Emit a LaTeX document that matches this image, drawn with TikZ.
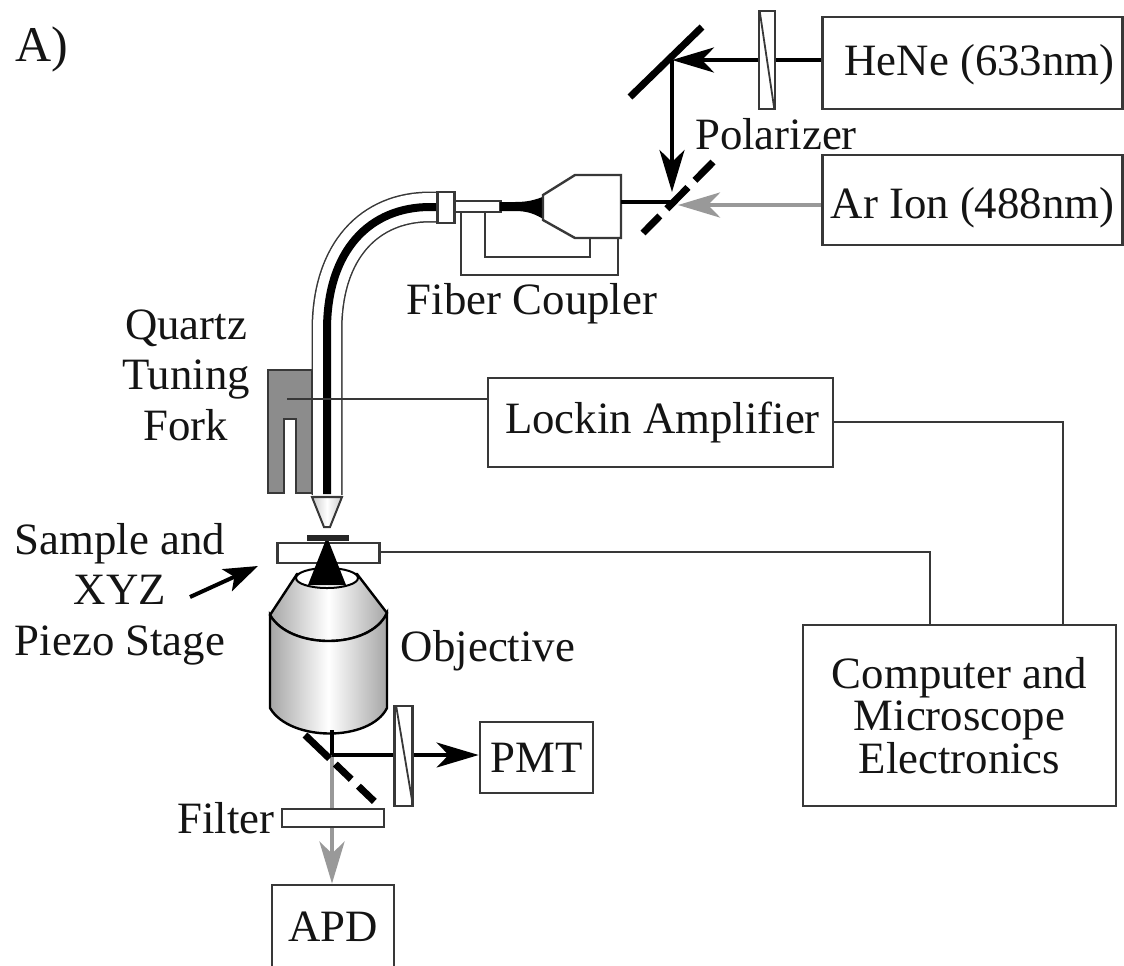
\documentclass[tikz,border=0pt]{standalone}
\usepackage{fontspec}
\setmainfont{Liberation Serif}
\usetikzlibrary{arrows.meta}
\definecolor{ln}{gray}{0.22}
\definecolor{beamgray}{gray}{0.6}
\definecolor{forkgray}{gray}{0.55}
\tikzset{
  x=0.5pt,y=-0.5pt,
  lab/.style={inner sep=0pt,align=center,text=black!92,font=\fontsize{22.4}{25.2}\selectfont},
  boxnode/.style={draw=ln,line width=1.4pt,fill=white,inner sep=0pt,align=center,text=black!92,font=\fontsize{22.4}{20}\selectfont},
  wire/.style={draw=ln,line width=1.4pt},
  thinbox/.style={draw=ln,line width=1.2pt,fill=white},
  blackhead/.style={-{Stealth[length=21pt,width=12.5pt,inset=6pt]},line width=2pt,black},
  grayhead/.style={-{Stealth[length=21pt,width=12.5pt,inset=6pt]},line width=2.4pt,beamgray},
  splitter/.style={line width=3.5pt,black,dash pattern=on 12pt off 5pt on 15pt off 5pt on 15pt off 5pt},
  objshade/.style={left color=black!35,right color=black!35,middle color=white,draw=black,line width=1.2pt},
}
\begin{document}
\begin{tikzpicture}
\clip (0,0) rectangle (1124,965);
\fill[white] (0,0) rectangle (1124,965);

% boxes
\node[boxnode,minimum width=150pt,minimum height=46pt] (hene) at (972.5,63) {\hspace{7pt}\raisebox{0pt}[\dimexpr\height+2pt][\depth]{HeNe (633nm)}};
\node[boxnode,minimum width=150pt,minimum height=45pt] (arion) at (972.5,200) {\raisebox{0pt}[\dimexpr\height+8pt][\depth]{Ar Ion (488nm)}};
\node[boxnode,minimum width=172.5pt,minimum height=44.5pt] (lockin) at (660.5,422.5) {\hspace{2pt}Lockin Amplifier};
\node[boxnode,minimum width=156.5pt,minimum height=90.5pt] (computer) at (959.5,715.5) {Computer and\\[1pt]Microscope\\Electronics};
\node[boxnode,minimum width=56.5pt,minimum height=35.5pt] (pmt) at (536.5,757.5) {PMT};
\node[boxnode,minimum width=61pt,minimum height=46pt] (apd) at (333,931) {\raisebox{0pt}[\height][\dimexpr\depth+4pt]{APD}};

% free junction points
\coordinate (mirrorpt) at (672,60);
\coordinate (bspt) at (672,202);
\coordinate (forkpt) at (287,399);
\coordinate (bs2pt) at (332,755);

% mirror and upper beam splitter
\coordinate (m1) at (630,97);
\coordinate (m2) at (702,27);
\draw[line width=3.5pt,black] (m1) -- (m2);
\coordinate (b1) at (643,233);
\coordinate (b2) at (713,162);
\draw[splitter] (b1) -- (b2);

% upper beams
\draw[blackhead] (hene.west |- mirrorpt) -- (mirrorpt);
\node[thinbox,minimum width=8pt,minimum height=49pt,inner sep=0pt] (pol1) at (767,60) {};
\draw[line width=0.9pt,ln] ([shift={(2,2)}]pol1.north west) -- ([shift={(-2,-2)}]pol1.south east);
\draw[blackhead] (mirrorpt) -- (672,192);
\draw[grayhead] (arion.west |- 0,205) -- (678,205);

% fiber
\coordinate (fibtop) at (437,207);
\coordinate (fibbot) at (327,495);
\draw[ln,line width=15.5pt] (fibtop) -- (430,207) .. controls (370,207) and (327,250) .. (327,330) -- (fibbot);
\draw[white,line width=14pt] (fibtop) -- (430,207) .. controls (370,207) and (327,250) .. (327,330) -- (fibbot);
\draw[black,line width=4pt] (fibtop) -- (430,207) .. controls (370,207) and (327,250) .. (327,330) -- (327,494);

% tip
\path[shade,left color=black!20,right color=black!20,middle color=white,draw=ln,line width=1pt] (312,497) -- (342,497) -- (330,527) -- (324,527) -- cycle;

% coupler brackets
\coordinate (cp1) at (461,211);
\coordinate (cp2) at (618,238);
\coordinate (cp3) at (485,211);
\coordinate (cp4) at (590,238);
\draw[wire,line width=1.2pt] (cp1) -- (461,275) -- (618,275) -- (cp2);
\draw[wire,line width=1.2pt] (cp3) -- (485,257) -- (590,257) -- (cp4);

% fiber mount
\node[thinbox,minimum width=8.5pt,minimum height=15.5pt,inner sep=0pt] (clamp) at (446,207.5) {};
\node[thinbox,minimum width=23pt,minimum height=5.5pt,inner sep=0pt] (ferrule) at (477.5,206.5) {};
\fill[black] (500,202) -- (515,202) .. controls (528,202) and (535,200) .. (545,196) -- (545,220) .. controls (535,214) and (528,211) .. (515,211) -- (500,211) -- cycle;
\path[draw=ln,line width=1.2pt,fill=white] (543,195) -- (575,175) -- (621,175) -- (621,238) -- (575,238) -- (543,220) -- cycle;
\coordinate (coupleout) at (621,202);
\draw[black,line width=1.8pt] (coupleout) -- (bspt);

% tuning fork
\path[draw=ln,line width=1pt,fill=forkgray] (268,370) -- (312,370) -- (312,493) -- (296,493) -- (296,419) -- (284,419) -- (284,493) -- (268,493) -- cycle;
\draw[wire,line width=1.3pt] (forkpt) -- (lockin.west |- forkpt);

% objective
\path[objshade] (270,615) -- (297,574) -- (357,574) -- (387,613) .. controls (370,650) and (290,650) .. (270,615) -- cycle;
\path[objshade] (270,615) .. controls (290,650) and (370,650) .. (387,613) -- (387,708) .. controls (370,742) and (290,742) .. (270,708) -- cycle;
\path[draw=black,line width=1pt,fill=white] (327,578) ellipse [x radius=31,y radius=10];

% sample stage
\node[thinbox,minimum width=51pt,minimum height=10pt,inner sep=0pt] (stage) at (328.5,553) {};
\fill[black] (327,537) -- (346,585) -- (308,585) -- cycle;
\fill[black!85] (307,535) rectangle (349,541);
\coordinate (stageout) at (930,552);
\draw[wire] (stage.east |- stageout) -- (stageout) -- (stageout |- computer.north);
\coordinate (lockout) at (1063,422);
\draw[wire] (lockin.east |- lockout) -- (lockout) -- (lockout |- computer.north);

% lower beams
\coordinate (objbot) at (332,730);
\draw[grayhead] (bs2pt) -- (bs2pt |- apd.north);
\node[thinbox,minimum width=51pt,minimum height=9pt,inner sep=0pt] (filter) at (333,818) {};
\coordinate (b3) at (305,735);
\coordinate (b4) at (376,803);
\draw[splitter,dash pattern=on 17pt off 4pt on 11pt off 5pt on 11pt off 5pt] (b3) -- (b4);
\draw[black,line width=1.8pt] (objbot) -- (bs2pt);
\draw[blackhead,line width=1.6pt] (bs2pt) -- (pmt.west |- bs2pt);
\node[thinbox,minimum width=9pt,minimum height=50pt,inner sep=0pt] (pol2) at (403.5,756) {};
\draw[line width=0.9pt,ln] ([shift={(3,2)}]pol2.north west) -- ([shift={(-1,-3)}]pol2.south east);

% sample arrow
\coordinate (sa1) at (190,597);
\coordinate (sa2) at (258,566);
\draw[line width=2pt,black,-{Stealth[length=17pt,width=12pt,inset=4pt]}] (sa1) -- (sa2);

% labels
\node[lab,font=\fontsize{25}{30}\selectfont] (lA) at (42,49) {A)};
\node[lab] (lPol) at (776,134) {Polarizer};
\node[lab] (lFib) at (532,304) {Fiber Coupler};
\node[lab] (lQua) at (186,375) {Quartz\\Tuning\\Fork};
\node[lab] (lSam) at (120,594) {Sample and\\XYZ\\Piezo Stage};
\node[lab] (lObj) at (488,651) {Objective};
\node[lab] (lFil) at (226,818) {Filter};
\end{tikzpicture}
\end{document}
